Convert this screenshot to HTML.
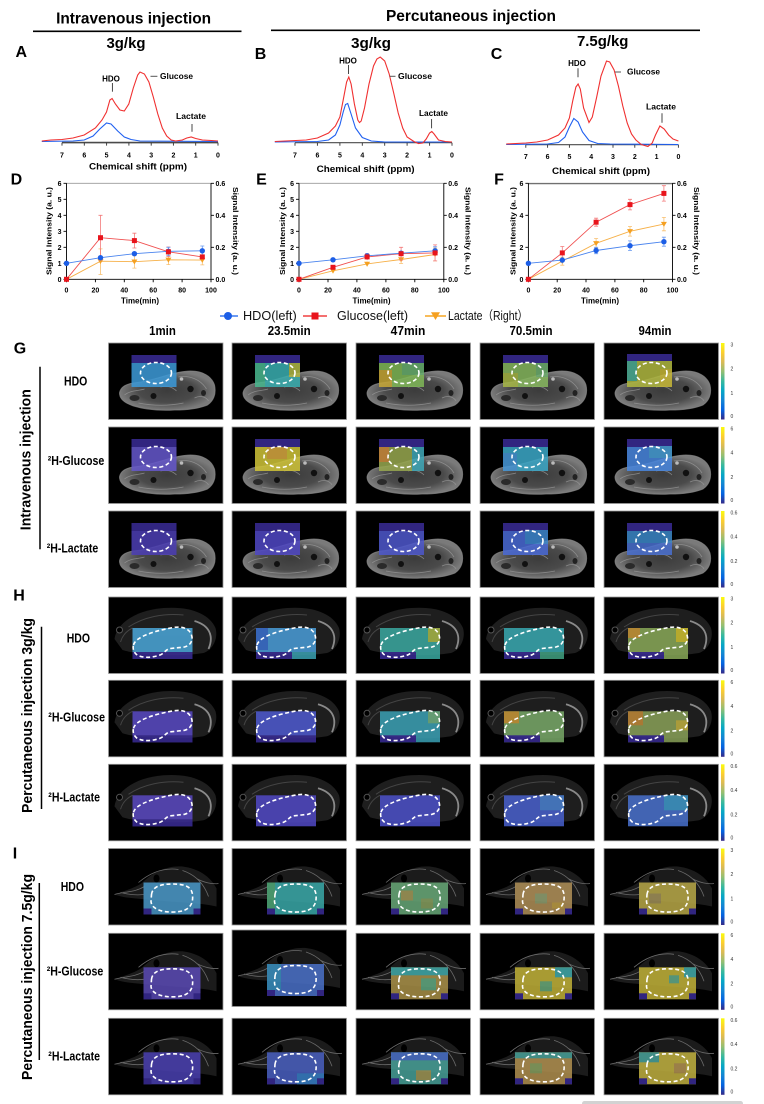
<!DOCTYPE html>
<html><head><meta charset="utf-8"><style>
html,body{margin:0;padding:0;background:#fff;}
svg{display:block;}
.b{font-family:"Liberation Sans",Arial,sans-serif;font-weight:bold;fill:#000;}
.r{font-family:"Liberation Sans","Noto Sans CJK SC",sans-serif;fill:#111;}
.t{fill:#000;stroke:#9a9a9a;stroke-width:.8;}
.o{opacity:.86;}
.cb{font-family:"Liberation Sans",Arial,sans-serif;font-size:5px;fill:#333;}
.ax{stroke:#000;stroke-width:.9;fill:none;}
</style></head><body>
<svg width="764" height="1104" viewBox="0 0 764 1104" xmlns="http://www.w3.org/2000/svg">
<defs>
<radialGradient id="rg" cx="0.5" cy="0.5" r="0.5"><stop offset="0" stop-color="#3c3c3c"/><stop offset="0.6" stop-color="#4a4a4a"/><stop offset="1" stop-color="#7a7a7a"/></radialGradient>
<linearGradient id="par" x1="0" y1="1" x2="0" y2="0">
<stop offset="0" stop-color="#352a87"/><stop offset="0.125" stop-color="#0363e1"/><stop offset="0.25" stop-color="#1485d4"/><stop offset="0.375" stop-color="#06a7c6"/><stop offset="0.5" stop-color="#38b99e"/><stop offset="0.625" stop-color="#92bf73"/><stop offset="0.75" stop-color="#d9ba56"/><stop offset="0.875" stop-color="#fcce2e"/><stop offset="1" stop-color="#f9fb0e"/>
</linearGradient>
<g id="bG">
<path d="M11,50 C12,44 18,41 25,40 C36,39 46,36 56,33 C66,30 74,28 82,28 C94,28 103,33 106,42 C108,51 105,58 99,62 C89,66 78,67 66,67 C50,68 35,66 25,63 C16,60 11,56 11,50 Z" fill="url(#rg)" stroke="#8a8a8a" stroke-width="1" stroke-opacity=".7"/>
<path d="M16,52 C22,47 30,48 36,46 M70,34 C80,32 92,36 98,46 M86,55 C92,52 98,54 100,58 M30,60 C45,63 60,63 75,60 M52,44 C58,42 64,44 68,48" stroke="#9a9a9a" stroke-width=".8" stroke-opacity=".75" fill="none"/>
<circle cx="45" cy="53" r="3" fill="#111"/>
<circle cx="82" cy="46" r="3.2" fill="#111"/>
<ellipse cx="95" cy="50" rx="2.5" ry="3" fill="#222"/>
<circle cx="73" cy="36" r="1.8" fill="#bbb"/>
<ellipse cx="26" cy="55" rx="5" ry="3" fill="#2a2a2a"/>
</g>
<g id="bH">
<path d="M6,42 C8,26 28,13 55,11 C82,9 101,17 107,31 C110,42 104,53 95,56 C70,60 30,58 14,53 Z" fill="#1e1e1e"/>
<path d="M86,24 C100,28 106,38 100,52" stroke="#8a8a8a" stroke-width="1.8" fill="none"/>
<path d="M20,30 C35,20 55,16 75,18 M12,45 C14,38 18,34 24,31" stroke="#444" stroke-width="1" fill="none"/>
<circle cx="11" cy="33" r="3" fill="#000" stroke="#555" stroke-width="1"/>
</g>
<g id="bI">
<path d="M6,46 C16,42 26,40 34,34 C44,24 58,17 74,18 C90,20 102,28 108,40 L108,58 C90,54 70,54 50,52 C30,50 16,50 6,46 Z" fill="#1b1b1b"/>
<path d="M6,46 C16,43 26,44 36,38 M30,34 C42,24 56,19 70,21 M74,22 C86,26 95,34 100,48 M88,30 C95,34 104,36 110,35 M12,44 C20,46 28,47 35,46" stroke="#6a6a6a" stroke-width=".8" fill="none"/>
<ellipse cx="48" cy="30" rx="3" ry="4" fill="#000"/>
</g>
<ellipse id="dG" cx="47.5" cy="30" rx="15.5" ry="10.5" fill="none" stroke="#fff" stroke-width="1.6" stroke-dasharray="4 2.6"/>
<path id="dH" d="M25,48 C27,40 45,34 65,30.5 C75,29 82,32 83.5,40 C84,46 80,49 76,50 L62,51.5 C57,52 56,57 50,58.5 C42,61 33,61 28,57.5 C25,55 24,51 25,48 Z" fill="none" stroke="#fff" stroke-width="1.6" stroke-dasharray="4 2.6"/>
<path id="dI" d="M43,46 C44,38 52,35.5 64,35.5 C76,35.5 83,38 84,46 C85,56 81,63 66,63.5 C52,64 43,60 42.5,53 Z" fill="none" stroke="#fff" stroke-width="1.6" stroke-dasharray="4 2.6"/>
<rect id="tile" class="t" width="114.5" height="76.5"/>
<rect id="topG" x="23" y="12" width="45" height="8" fill="#3a2c95"/>
<rect id="stH" x="24" y="55" width="36" height="7" fill="#3a2c95"/>
<g id="cnI"><rect x="35" y="60" width="8" height="6" fill="#3a2c95"/><rect x="85" y="60" width="7" height="6" fill="#3a2c95"/></g>
</defs>

<!-- ===== Titles ===== -->
<text class="b" x="133.6" y="19" font-size="16" text-anchor="middle" dominant-baseline="central" textLength="155" lengthAdjust="spacingAndGlyphs">Intravenous injection</text>
<line x1="33" y1="31.3" x2="241.5" y2="31.3" stroke="#000" stroke-width="1.6"/>
<text class="b" x="471" y="16.7" font-size="16" text-anchor="middle" dominant-baseline="central" textLength="170" lengthAdjust="spacingAndGlyphs">Percutaneous injection</text>
<line x1="271" y1="30.3" x2="700" y2="30.3" stroke="#000" stroke-width="1.6"/>
<text class="b" x="126" y="43.3" font-size="15" text-anchor="middle" dominant-baseline="central" textLength="39" lengthAdjust="spacingAndGlyphs">3g/kg</text>
<text class="b" x="371" y="43.3" font-size="15" text-anchor="middle" dominant-baseline="central" textLength="40" lengthAdjust="spacingAndGlyphs">3g/kg</text>
<text class="b" x="602.7" y="41.3" font-size="15" text-anchor="middle" dominant-baseline="central" textLength="51.5" lengthAdjust="spacingAndGlyphs">7.5g/kg</text>
<text class="b" x="21.3" y="52.7" font-size="16" text-anchor="middle" dominant-baseline="central">A</text>
<text class="b" x="260.5" y="54.3" font-size="16" text-anchor="middle" dominant-baseline="central">B</text>
<text class="b" x="496.5" y="54.3" font-size="16" text-anchor="middle" dominant-baseline="central">C</text>

<!-- ===== Spectrum A ===== -->
<g>
<line x1="62" y1="142.6" x2="218" y2="142.6" stroke="#4a4a4a" stroke-width="1.6"/>
<path d="M62,142.6v3M84.3,142.6v3M106.6,142.6v3M128.9,142.6v3M151.2,142.6v3M173.4,142.6v3M195.7,142.6v3M218,142.6v3" stroke="#333" stroke-width=".9"/>
<polyline fill="none" stroke="#2060f0" stroke-width="1.1" points="41.8,141.5 73,141 84.2,140 93.1,136 99.8,129 106.5,123 111,124 117.7,131 124.3,137 131,139.5 140,141 218,141.5"/>
<polyline fill="none" stroke="#f03030" stroke-width="1.1" points="41.8,141 50.8,140 61.9,139.5 73,138 84.2,135 95.4,128 102,120 106.5,112 109.9,100 112.1,98.5 115.4,104 119.9,110 124.3,111 128.8,104 133.3,88 137.7,75 140,72 144.4,74 148.9,82 153.3,97 157.8,114 162.3,128 166.7,136 171.2,140 175.6,141 182.3,140 186.8,138 191.2,137 195.7,138.5 202.4,140 211.3,140.5 218,141"/>
<g class="b" font-size="7" text-anchor="middle">
<text x="62" y="157.5">7</text><text x="84.3" y="157.5">6</text><text x="106.6" y="157.5">5</text><text x="128.9" y="157.5">4</text><text x="151.2" y="157.5">3</text><text x="173.4" y="157.5">2</text><text x="195.7" y="157.5">1</text><text x="218" y="157.5">0</text>
</g>
<text class="b" x="138" y="166.7" font-size="9" text-anchor="middle" dominant-baseline="central" textLength="98" lengthAdjust="spacingAndGlyphs">Chemical shift (ppm)</text>
<text class="b" x="111" y="79" font-size="8" text-anchor="middle" dominant-baseline="central">HDO</text>
<line x1="112.4" y1="83" x2="112.4" y2="91.7" stroke="#333" stroke-width=".9"/>
<line x1="150.5" y1="76.3" x2="157.4" y2="76.3" stroke="#555" stroke-width="1"/>
<text class="b" x="160" y="76.3" font-size="8" dominant-baseline="central" textLength="33" lengthAdjust="spacingAndGlyphs">Glucose</text>
<text class="b" x="191" y="116.7" font-size="8" text-anchor="middle" dominant-baseline="central" textLength="30" lengthAdjust="spacingAndGlyphs">Lactate</text>
<line x1="192" y1="124" x2="192" y2="131.7" stroke="#333" stroke-width=".9"/>
</g>

<!-- ===== Spectrum B ===== -->
<g>
<line x1="295" y1="142.7" x2="452" y2="142.7" stroke="#4a4a4a" stroke-width="1.2"/>
<path d="M295,142.7v3M317.4,142.7v3M339.9,142.7v3M362.3,142.7v3M384.7,142.7v3M407.1,142.7v3M429.6,142.7v3M452,142.7v3" stroke="#333" stroke-width=".9"/>
<polyline fill="none" stroke="#2060f0" stroke-width="1.1" points="274.8,142 317.4,141.5 328.6,140 335.4,135 339.9,125 343.2,112 345.5,104.5 347.7,103.5 351.1,114 355.5,128 362.3,137.5 371.3,141 384.7,142 452,142"/>
<polyline fill="none" stroke="#f03030" stroke-width="1.1" points="274.8,141.5 306.2,140 317.4,138 328.6,133 335.4,126 339.9,117 343.2,100 346.6,82 348.8,77 351.1,84 354.4,104 357.8,120 359.5,122.5 361.2,121 364.5,108 369,84 373.5,66 376.9,59 380.2,57 384.7,61 389.2,74 393.7,93 398.2,113 402.7,128 407.1,137 413.9,141.5 418.4,143.5 422.8,143 426.2,139 429.6,133 431.8,131.5 434.1,134 438.5,140 445.3,141.5 452,142"/>
<g class="b" font-size="7" text-anchor="middle">
<text x="295" y="157.5">7</text><text x="317.4" y="157.5">6</text><text x="339.9" y="157.5">5</text><text x="362.3" y="157.5">4</text><text x="384.7" y="157.5">3</text><text x="407.1" y="157.5">2</text><text x="429.6" y="157.5">1</text><text x="452" y="157.5">0</text>
</g>
<text class="b" x="365.6" y="169" font-size="9" text-anchor="middle" dominant-baseline="central" textLength="98" lengthAdjust="spacingAndGlyphs">Chemical shift (ppm)</text>
<text class="b" x="348" y="61" font-size="8" text-anchor="middle" dominant-baseline="central">HDO</text>
<line x1="348.5" y1="65" x2="348.5" y2="74" stroke="#333" stroke-width=".9"/>
<line x1="389.5" y1="76.3" x2="395.5" y2="76.3" stroke="#555" stroke-width="1"/>
<text class="b" x="398" y="76.3" font-size="8" dominant-baseline="central" textLength="34" lengthAdjust="spacingAndGlyphs">Glucose</text>
<text class="b" x="433.5" y="113.7" font-size="8" text-anchor="middle" dominant-baseline="central" textLength="29" lengthAdjust="spacingAndGlyphs">Lactate</text>
<line x1="431.6" y1="119" x2="431.6" y2="128.3" stroke="#333" stroke-width=".9"/>
</g>

<!-- ===== Spectrum C ===== -->
<g>
<line x1="525.8" y1="144.7" x2="678.4" y2="144.7" stroke="#4a4a4a" stroke-width="1.2"/>
<path d="M525.8,144.7v3M547.6,144.7v3M569.4,144.7v3M591.2,144.7v3M613,144.7v3M634.8,144.7v3M656.6,144.7v3M678.4,144.7v3" stroke="#333" stroke-width=".9"/>
<polyline fill="none" stroke="#2060f0" stroke-width="1.1" points="506.2,144.5 547.6,144 558.5,142.5 565,137 569.4,127 573.8,118.5 578.1,122 582.5,132 589,140.5 597.7,143.5 610,144 678.4,144.5"/>
<polyline fill="none" stroke="#f03030" stroke-width="1.1" points="506.2,144 525.8,143 536.7,142 547.6,140 558.5,135 565,128 569.4,118 572.7,101 575.9,87 578.1,84 580.3,89 583.6,108 589,122.5 592.3,117 596.7,97 601,76 606.5,61 609.7,62 614.1,70 618.4,86 622.8,106 627.2,123 631.5,134 635.9,140 641.3,144.5 647.9,146.5 652.2,143 655.5,135 659.9,126 664.2,129 668.6,135 673,139 678.4,141"/>
<g class="b" font-size="7" text-anchor="middle">
<text x="525.8" y="159.2">7</text><text x="547.6" y="159.2">6</text><text x="569.4" y="159.2">5</text><text x="591.2" y="159.2">4</text><text x="613" y="159.2">3</text><text x="634.8" y="159.2">2</text><text x="656.6" y="159.2">1</text><text x="678.4" y="159.2">0</text>
</g>
<text class="b" x="601" y="171" font-size="9" text-anchor="middle" dominant-baseline="central" textLength="98" lengthAdjust="spacingAndGlyphs">Chemical shift (ppm)</text>
<text class="b" x="577" y="63.7" font-size="8" text-anchor="middle" dominant-baseline="central">HDO</text>
<line x1="578" y1="68.3" x2="578" y2="77.3" stroke="#333" stroke-width=".9"/>
<line x1="615" y1="72" x2="621" y2="72" stroke="#555" stroke-width="1"/>
<text class="b" x="627" y="72" font-size="8" dominant-baseline="central" textLength="33" lengthAdjust="spacingAndGlyphs">Glucose</text>
<text class="b" x="661" y="107" font-size="8" text-anchor="middle" dominant-baseline="central" textLength="30" lengthAdjust="spacingAndGlyphs">Lactate</text>
<line x1="662" y1="113.3" x2="662" y2="122.7" stroke="#333" stroke-width=".9"/>
</g>

<!-- ===== Panel letters D E F ===== -->
<text class="b" x="16.4" y="180" font-size="16" text-anchor="middle" dominant-baseline="central">D</text>
<text class="b" x="261.5" y="180" font-size="16" text-anchor="middle" dominant-baseline="central">E</text>
<text class="b" x="499" y="180" font-size="16" text-anchor="middle" dominant-baseline="central">F</text>

<!-- ===== Graph D ===== -->
<g>
<line x1="66.5" y1="183.3" x2="211" y2="183.3" stroke="#9a9a9a" stroke-width=".8"/>
<path class="ax" d="M66.5,183.3V279.3H211V183.3"/>
<path class="ax" d="M63.5,279.3h3M63.5,263.3h3M63.5,247.3h3M63.5,231.3h3M63.5,215.3h3M63.5,199.3h3M63.5,183.3h3M211,279.3h3M211,247.3h3M211,215.3h3M211,183.3h3M66.5,279.3v3M95.4,279.3v3M124.3,279.3v3M153.2,279.3v3M182.1,279.3v3M211,279.3v3"/>
<g class="b" font-size="7" text-anchor="end">
<text x="61.5" y="281.8">0</text><text x="61.5" y="265.8">1</text><text x="61.5" y="249.8">2</text><text x="61.5" y="233.8">3</text><text x="61.5" y="217.8">4</text><text x="61.5" y="201.8">5</text><text x="61.5" y="185.8">6</text>
</g>
<g class="b" font-size="7">
<text x="215.5" y="281.8">0.0</text><text x="215.5" y="249.8">0.2</text><text x="215.5" y="217.8">0.4</text><text x="215.5" y="185.8">0.6</text>
</g>
<g class="b" font-size="7" text-anchor="middle">
<text x="66.5" y="292.5">0</text><text x="95.4" y="292.5">20</text><text x="124.3" y="292.5">40</text><text x="153.2" y="292.5">60</text><text x="182.1" y="292.5">80</text><text x="211" y="292.5">100</text>
</g>
<text class="b" x="140" y="301" font-size="8" text-anchor="middle" dominant-baseline="central" textLength="38" lengthAdjust="spacingAndGlyphs">Time(min)</text>
<text class="b" transform="translate(48.9,231) rotate(-90)" font-size="7.5" text-anchor="middle" dominant-baseline="central" textLength="88" lengthAdjust="spacingAndGlyphs">Signal Intensity (a. u.)</text>
<text class="b" transform="translate(235.6,231) rotate(90)" font-size="7.5" text-anchor="middle" dominant-baseline="central" textLength="88" lengthAdjust="spacingAndGlyphs">Signal Intensity (a. u.)</text>
<path d="M100.5,248.9V274.5M98.5,248.9h4M98.5,274.5h4M134.4,255.3V268.1M132.4,255.3h4M132.4,268.1h4M168.4,255V264.6M166.4,255h4M166.4,264.6h4M202.3,255.3V264.9M200.3,255.3h4M200.3,264.9h4" stroke="#f8c070" stroke-width=".8" fill="none"/>
<polyline points="66.5,279.3 100.5,261.2 134.4,261.7 168.4,259.8 202.3,260.1" fill="none" stroke="#f6b048" stroke-width=".9"/>
<g fill="#f5a020"><path d="M97.5,259h6l-3,5z"/><path d="M131.4,259.5h6l-3,5z"/><path d="M165.4,257.6h6l-3,5z"/><path d="M199.3,257.9h6l-3,5z"/></g>
<path d="M100.5,215.3V260M98.5,215.3h4M98.5,260h4M134.4,233.2V248M132.4,233.2h4M132.4,248h4M168.4,247V256.6M166.4,247h4M166.4,256.6h4M202.3,255V258.8M200.3,255h4" stroke="#f37a7a" stroke-width=".8" fill="none"/>
<polyline points="66.5,279.3 100.5,237.7 134.4,240.6 168.4,251.8 202.3,256.9" fill="none" stroke="#f05050" stroke-width=".9"/>
<path d="M134.4,252.1V255.3M168.4,247.3V255.3M166.4,247.3h4M166.4,255.3h4M202.3,246V255.6M200.3,246h4M200.3,255.6h4" stroke="#6a9af0" stroke-width=".8" fill="none"/>
<polyline points="66.5,263.3 100.5,257.7 134.4,253.7 168.4,251.3 202.3,250.8" fill="none" stroke="#4a84ee" stroke-width=".9"/>
<g fill="#1c5ee6"><circle cx="66.5" cy="263.3" r="2.7"/><circle cx="100.5" cy="257.7" r="2.7"/><circle cx="134.4" cy="253.7" r="2.7"/><circle cx="168.4" cy="251.3" r="2.7"/><circle cx="202.3" cy="250.8" r="2.7"/></g>
<g fill="#e8141c"><rect x="64" y="276.8" width="5" height="5"/><rect x="98" y="235.2" width="5" height="5"/><rect x="131.9" y="238.1" width="5" height="5"/><rect x="165.9" y="249.3" width="5" height="5"/><rect x="199.8" y="254.4" width="5" height="5"/></g>
</g>

<!-- ===== Graph E ===== -->
<g>
<line x1="299" y1="183.3" x2="443.8" y2="183.3" stroke="#9a9a9a" stroke-width=".8"/>
<path class="ax" d="M299,183.3V279.3H443.8V183.3"/>
<path class="ax" d="M296,279.3h3M296,263.3h3M296,247.3h3M296,231.3h3M296,215.3h3M296,199.3h3M296,183.3h3M443.8,279.3h3M443.8,247.3h3M443.8,215.3h3M443.8,183.3h3M299,279.3v3M328,279.3v3M356.9,279.3v3M385.9,279.3v3M414.8,279.3v3M443.8,279.3v3"/>
<g class="b" font-size="7" text-anchor="end">
<text x="294" y="281.8">0</text><text x="294" y="265.8">1</text><text x="294" y="249.8">2</text><text x="294" y="233.8">3</text><text x="294" y="217.8">4</text><text x="294" y="201.8">5</text><text x="294" y="185.8">6</text>
</g>
<g class="b" font-size="7">
<text x="448.3" y="281.8">0.0</text><text x="448.3" y="249.8">0.2</text><text x="448.3" y="217.8">0.4</text><text x="448.3" y="185.8">0.6</text>
</g>
<g class="b" font-size="7" text-anchor="middle">
<text x="299" y="292.5">0</text><text x="328" y="292.5">20</text><text x="356.9" y="292.5">40</text><text x="385.9" y="292.5">60</text><text x="414.8" y="292.5">80</text><text x="443.8" y="292.5">100</text>
</g>
<text class="b" x="371.5" y="301" font-size="8" text-anchor="middle" dominant-baseline="central" textLength="38" lengthAdjust="spacingAndGlyphs">Time(min)</text>
<text class="b" transform="translate(282.5,231) rotate(-90)" font-size="7.5" text-anchor="middle" dominant-baseline="central" textLength="88" lengthAdjust="spacingAndGlyphs">Signal Intensity (a. u.)</text>
<text class="b" transform="translate(468,231) rotate(90)" font-size="7.5" text-anchor="middle" dominant-baseline="central" textLength="88" lengthAdjust="spacingAndGlyphs">Signal Intensity (a. u.)</text>
<path d="M367.1,261.5V266.3M401.1,255.5V263.5M399.1,255.5h4M399.1,263.5h4M435.1,248.1V260.9M433.1,248.1h4M433.1,260.9h4" stroke="#f8c070" stroke-width=".8" fill="none"/>
<polyline points="299,279.3 333,270.8 367.1,263.9 401.1,259.5 435.1,254.5" fill="none" stroke="#f6b048" stroke-width=".9"/>
<g fill="#f5a020"><path d="M330,268.6h6l-3,5z"/><path d="M364.1,261.7h6l-3,5z"/><path d="M398.1,257.3h6l-3,5z"/><path d="M432.1,252.3h6l-3,5z"/></g>
<path d="M333,265.7V268.9M367.1,253.7V260.1M365.1,253.7h4M401.1,247.3V260.1M399.1,247.3h4M399.1,260.1h4M435.1,244.9V260.9M433.1,244.9h4M433.1,260.9h4" stroke="#f37a7a" stroke-width=".8" fill="none"/>
<polyline points="299,279.3 333,267.3 367.1,256.9 401.1,253.7 435.1,252.9" fill="none" stroke="#f05050" stroke-width=".9"/>
<path d="M401.1,251V255.4M435.1,246.8V254.8M433.1,246.8h4" stroke="#6a9af0" stroke-width=".8" fill="none"/>
<polyline points="299,263.3 333,259.8 367.1,255.8 401.1,253.2 435.1,250.8" fill="none" stroke="#4a84ee" stroke-width=".9"/>
<g fill="#1c5ee6"><circle cx="299" cy="263.3" r="2.7"/><circle cx="333" cy="259.8" r="2.7"/><circle cx="367.1" cy="255.8" r="2.7"/><circle cx="401.1" cy="253.2" r="2.7"/><circle cx="435.1" cy="250.8" r="2.7"/></g>
<g fill="#e8141c"><rect x="296.5" y="276.8" width="5" height="5"/><rect x="330.5" y="264.8" width="5" height="5"/><rect x="364.6" y="254.4" width="5" height="5"/><rect x="398.6" y="251.2" width="5" height="5"/><rect x="432.6" y="250.4" width="5" height="5"/></g>
</g>

<!-- ===== Graph F ===== -->
<g>
<line x1="528.4" y1="183.6" x2="672.5" y2="183.6" stroke="#707070" stroke-width="1.4"/>
<path class="ax" d="M528.4,183.3V279.3H672.5V183.3"/>
<path class="ax" d="M525.4,279.3h3M525.4,247.3h3M525.4,215.3h3M525.4,183.3h3M672.5,279.3h3M672.5,247.3h3M672.5,215.3h3M672.5,183.3h3M528.4,279.3v3M557.2,279.3v3M586,279.3v3M614.9,279.3v3M643.7,279.3v3M672.5,279.3v3"/>
<g class="b" font-size="7" text-anchor="end">
<text x="523.4" y="281.8">0</text><text x="523.4" y="249.8">2</text><text x="523.4" y="217.8">4</text><text x="523.4" y="185.8">6</text>
</g>
<g class="b" font-size="7">
<text x="677" y="281.8">0.0</text><text x="677" y="249.8">0.2</text><text x="677" y="217.8">0.4</text><text x="677" y="185.8">0.6</text>
</g>
<g class="b" font-size="7" text-anchor="middle">
<text x="528.4" y="292.5">0</text><text x="557.2" y="292.5">20</text><text x="586" y="292.5">40</text><text x="614.9" y="292.5">60</text><text x="643.7" y="292.5">80</text><text x="672.5" y="292.5">100</text>
</g>
<text class="b" x="600" y="301" font-size="8" text-anchor="middle" dominant-baseline="central" textLength="38" lengthAdjust="spacingAndGlyphs">Time(min)</text>
<text class="b" transform="translate(513,231) rotate(-90)" font-size="7.5" text-anchor="middle" dominant-baseline="central" textLength="88" lengthAdjust="spacingAndGlyphs">Signal Intensity (a. u.)</text>
<text class="b" transform="translate(696.5,231) rotate(90)" font-size="7.5" text-anchor="middle" dominant-baseline="central" textLength="88" lengthAdjust="spacingAndGlyphs">Signal Intensity (a. u.)</text>
<path d="M562.3,257.2V265.2M560.3,257.2h4M560.3,265.2h4M596.1,238.5V248.1M594.1,238.5h4M594.1,248.1h4M630,226.5V236.1M628,226.5h4M628,236.1h4M663.9,217.4V230.8M661.9,217.4h4M661.9,230.8h4" stroke="#f8c070" stroke-width=".8" fill="none"/>
<polyline points="528.4,279.3 562.3,261.2 596.1,243.3 630,231.3 663.9,224.1" fill="none" stroke="#f6b048" stroke-width=".9"/>
<g fill="#f5a020"><path d="M559.3,259h6l-3,5z"/><path d="M593.1,241.1h6l-3,5z"/><path d="M627,229.1h6l-3,5z"/><path d="M660.9,221.9h6l-3,5z"/></g>
<path d="M562.3,246.5V259.3M560.3,246.5h4M560.3,259.3h4M596.1,218.2V226.2M594.1,218.2h4M594.1,226.2h4M630,199.3V209.9M628,199.3h4M628,209.9h4M663.9,185.7V201.1M661.9,185.7h4M661.9,201.1h4" stroke="#f37a7a" stroke-width=".8" fill="none"/>
<polyline points="528.4,279.3 562.3,252.9 596.1,222.2 630,204.6 663.9,193.4" fill="none" stroke="#f05050" stroke-width=".9"/>
<path d="M562.3,256.9V263.3M596.1,247.3V253.7M594.1,247.3h4M594.1,253.7h4M630,240.9V250.5M628,240.9h4M628,250.5h4M663.9,237.2V246.2M661.9,237.2h4M661.9,246.2h4" stroke="#6a9af0" stroke-width=".8" fill="none"/>
<polyline points="528.4,263.3 562.3,260.1 596.1,250.5 630,245.7 663.9,241.7" fill="none" stroke="#4a84ee" stroke-width=".9"/>
<g fill="#1c5ee6"><circle cx="528.4" cy="263.3" r="2.7"/><circle cx="562.3" cy="260.1" r="2.7"/><circle cx="596.1" cy="250.5" r="2.7"/><circle cx="630" cy="245.7" r="2.7"/><circle cx="663.9" cy="241.7" r="2.7"/></g>
<g fill="#e8141c"><rect x="525.9" y="276.8" width="5" height="5"/><rect x="559.8" y="250.4" width="5" height="5"/><rect x="593.6" y="219.7" width="5" height="5"/><rect x="627.5" y="202.1" width="5" height="5"/><rect x="661.4" y="190.9" width="5" height="5"/></g>
</g>

<!-- ===== Legend ===== -->
<line x1="220" y1="316" x2="238" y2="316" stroke="#3a78ee" stroke-width="1.5"/>
<circle cx="228" cy="316" r="4" fill="#1c5ee6"/>
<text class="r" x="243" y="316" font-size="12.5" dominant-baseline="central" textLength="53.7" lengthAdjust="spacingAndGlyphs">HDO(left)</text>
<line x1="303" y1="316" x2="327" y2="316" stroke="#f04040" stroke-width="1.5"/>
<rect x="311.5" y="312.5" width="7" height="7" fill="#e8141c"/>
<text class="r" x="337" y="316" font-size="12.5" dominant-baseline="central" textLength="71" lengthAdjust="spacingAndGlyphs">Glucose(left)</text>
<line x1="425" y1="316" x2="446" y2="316" stroke="#f5a623" stroke-width="1.5"/>
<path d="M431,312.3h9l-4.5,7.7z" fill="#f5a020"/>
<text class="r" x="448" y="316" font-size="12.5" dominant-baseline="central" textLength="80" lengthAdjust="spacingAndGlyphs">Lactate（Right）</text>

<!-- ===== Column headers ===== -->
<g class="b" font-size="12.5" text-anchor="middle">
<text x="162.5" y="331" dominant-baseline="central" textLength="26.7" lengthAdjust="spacingAndGlyphs">1min</text>
<text x="289.2" y="331" dominant-baseline="central" textLength="43" lengthAdjust="spacingAndGlyphs">23.5min</text>
<text x="408" y="331" dominant-baseline="central" textLength="34.7" lengthAdjust="spacingAndGlyphs">47min</text>
<text x="531" y="331" dominant-baseline="central" textLength="43" lengthAdjust="spacingAndGlyphs">70.5min</text>
<text x="655" y="331" dominant-baseline="central" textLength="33" lengthAdjust="spacingAndGlyphs">94min</text>
</g>

<!-- ===== Section labels ===== -->
<text class="b" x="20" y="349" font-size="16" text-anchor="middle" dominant-baseline="central">G</text>
<text class="b" x="19" y="596" font-size="16" text-anchor="middle" dominant-baseline="central">H</text>
<text class="b" x="15" y="854" font-size="16" text-anchor="middle" dominant-baseline="central">I</text>
<text class="b" transform="translate(26.7,459.7) rotate(-90)" font-size="14.5" text-anchor="middle" dominant-baseline="central" textLength="141" lengthAdjust="spacingAndGlyphs">Intravenous injection</text>
<line x1="40" y1="366.7" x2="40" y2="549.3" stroke="#000" stroke-width="1.5"/>
<text class="b" transform="translate(28,715.5) rotate(-90)" font-size="14.5" text-anchor="middle" dominant-baseline="central" textLength="195" lengthAdjust="spacingAndGlyphs">Percutaneous injection 3g/kg</text>
<line x1="41.5" y1="626.7" x2="41.5" y2="809" stroke="#000" stroke-width="1.5"/>
<text class="b" transform="translate(28,977) rotate(-90)" font-size="14.5" text-anchor="middle" dominant-baseline="central" textLength="206" lengthAdjust="spacingAndGlyphs">Percutaneous injection 7.5g/kg</text>
<line x1="39.3" y1="883" x2="39.3" y2="1060" stroke="#000" stroke-width="1.5"/>

<!-- Row labels -->
<g class="b" font-size="12.5">
<text x="64" y="381.7" dominant-baseline="central" textLength="23.3" lengthAdjust="spacingAndGlyphs">HDO</text>
<text x="47.7" y="461" dominant-baseline="central" textLength="56.6" lengthAdjust="spacingAndGlyphs">²H-Glucose</text>
<text x="46.7" y="548.7" dominant-baseline="central" textLength="51.6" lengthAdjust="spacingAndGlyphs">²H-Lactate</text>
<text x="66.7" y="638.3" dominant-baseline="central" textLength="23.3" lengthAdjust="spacingAndGlyphs">HDO</text>
<text x="48.3" y="717.3" dominant-baseline="central" textLength="56.7" lengthAdjust="spacingAndGlyphs">²H-Glucose</text>
<text x="48.3" y="797.7" dominant-baseline="central" textLength="51.7" lengthAdjust="spacingAndGlyphs">²H-Lactate</text>
<text x="60.7" y="887" dominant-baseline="central" textLength="23.3" lengthAdjust="spacingAndGlyphs">HDO</text>
<text x="46.7" y="971.7" dominant-baseline="central" textLength="56.6" lengthAdjust="spacingAndGlyphs">²H-Glucose</text>
<text x="48.3" y="1056.7" dominant-baseline="central" textLength="51.7" lengthAdjust="spacingAndGlyphs">²H-Lactate</text>
</g>

<!-- ===== G tiles ===== -->
<g transform="translate(108.5,343)"><use href="#tile"/><use href="#bG"/><g class="o"><rect x="23" y="12" width="45" height="32" fill="#3d9ad8"/><use href="#topG"/></g><use href="#dG"/></g>
<g transform="translate(232,343)"><use href="#tile"/><use href="#bG"/><g class="o"><rect x="23" y="12" width="45" height="32" fill="#3aaeb0"/><use href="#topG"/><rect x="23" y="20" width="10" height="24" fill="#4ab890"/><rect x="57" y="20" width="11" height="14" fill="#b0b848"/></g><use href="#dG"/></g>
<g transform="translate(356,343)"><use href="#tile"/><use href="#bG"/><g class="o"><rect x="23" y="12" width="45" height="32" fill="#80b858"/><use href="#topG"/><rect x="23" y="27" width="13" height="17" fill="#c8a838"/><rect x="46" y="20" width="22" height="12" fill="#6ab070"/></g><use href="#dG"/></g>
<g transform="translate(480,343)"><use href="#tile"/><use href="#bG"/><g class="o"><rect x="23" y="12" width="45" height="32" fill="#88b860"/><use href="#topG"/><rect x="23" y="30" width="15" height="14" fill="#a8b848"/><rect x="56" y="20" width="12" height="14" fill="#70b070"/></g><use href="#dG"/></g>
<g transform="translate(604,343)"><use href="#tile"/><use href="#bG"/><g class="o"><rect x="23" y="11" width="45" height="33" fill="#b0b840"/><rect x="23" y="11" width="45" height="7" fill="#3a2c95"/><rect x="23" y="18" width="10" height="20" fill="#50b098"/><rect x="56" y="26" width="12" height="18" fill="#c8b838"/></g><use href="#dG"/></g>
<g transform="translate(108.5,427)"><use href="#tile"/><use href="#bG"/><g class="o"><rect x="23" y="12" width="45" height="32" fill="#6658cc"/><use href="#topG"/></g><use href="#dG"/></g>
<g transform="translate(232,427)"><use href="#tile"/><use href="#bG"/><g class="o"><rect x="23" y="12" width="45" height="32" fill="#d0c438"/><use href="#topG"/><rect x="35" y="20" width="20" height="12" fill="#d8a840"/></g><use href="#dG"/></g>
<g transform="translate(356,427)"><use href="#tile"/><use href="#bG"/><g class="o"><rect x="23" y="12" width="45" height="32" fill="#98a850"/><use href="#topG"/><rect x="23" y="20" width="10" height="15" fill="#d09040"/><rect x="56" y="20" width="12" height="24" fill="#40a8b8"/></g><use href="#dG"/></g>
<g transform="translate(480,427)"><use href="#tile"/><use href="#bG"/><g class="o"><rect x="23" y="12" width="45" height="32" fill="#3ca8c8"/><use href="#topG"/><rect x="23" y="26" width="14" height="18" fill="#4898d8"/></g><use href="#dG"/></g>
<g transform="translate(604,427)"><use href="#tile"/><use href="#bG"/><g class="o"><rect x="23" y="12" width="45" height="32" fill="#4a88e0"/><use href="#topG"/><rect x="45" y="19" width="23" height="12" fill="#4aa0d8"/></g><use href="#dG"/></g>
<g transform="translate(108.5,511)"><use href="#tile"/><use href="#bG"/><g class="o"><rect x="23" y="12" width="45" height="32" fill="#4c3eb4"/><use href="#topG"/></g><use href="#dG"/></g>
<g transform="translate(232,511)"><use href="#tile"/><use href="#bG"/><g class="o"><rect x="23" y="12" width="45" height="32" fill="#5048c4"/><use href="#topG"/></g><use href="#dG"/></g>
<g transform="translate(356,511)"><use href="#tile"/><use href="#bG"/><g class="o"><rect x="23" y="12" width="45" height="32" fill="#4e58cc"/><use href="#topG"/></g><use href="#dG"/></g>
<g transform="translate(480,511)"><use href="#tile"/><use href="#bG"/><g class="o"><rect x="23" y="12" width="45" height="32" fill="#4a6ad6"/><use href="#topG"/><rect x="45" y="19" width="23" height="14" fill="#3e88d0"/></g><use href="#dG"/></g>
<g transform="translate(604,511)"><use href="#tile"/><use href="#bG"/><g class="o"><rect x="23" y="12" width="45" height="32" fill="#3c88c8"/><use href="#topG"/><rect x="23" y="32" width="45" height="12" fill="#4a70d0"/></g><use href="#dG"/></g>

<!-- ===== H tiles ===== -->
<g transform="translate(108.5,597)"><use href="#tile"/><use href="#bH"/><g class="o"><rect x="24" y="31" width="60" height="31" fill="#4aa6d8"/><rect x="24" y="55" width="60" height="7" fill="#3a2c95"/></g><use href="#dH"/></g>
<g transform="translate(232,597)"><use href="#tile"/><use href="#bH"/><g class="o"><rect x="24" y="31" width="60" height="31" fill="#4a9cd8"/><rect x="24" y="31" width="12" height="22" fill="#3a70d0"/><use href="#stH"/><rect x="60" y="55" width="24" height="7" fill="#3aa0b0"/></g><use href="#dH"/></g>
<g transform="translate(356,597)"><use href="#tile"/><use href="#bH"/><g class="o"><rect x="24" y="31" width="60" height="31" fill="#3aa8a0"/><rect x="72" y="31" width="12" height="14" fill="#a8b848"/><use href="#stH"/></g><use href="#dH"/></g>
<g transform="translate(480,597)"><use href="#tile"/><use href="#bH"/><g class="o"><rect x="24" y="31" width="60" height="31" fill="#38a8b0"/><use href="#stH"/><rect x="60" y="55" width="24" height="7" fill="#40a080"/></g><use href="#dH"/></g>
<g transform="translate(604,597)"><use href="#tile"/><use href="#bH"/><g class="o"><rect x="24" y="31" width="60" height="31" fill="#88a858"/><rect x="24" y="31" width="12" height="10" fill="#c89838"/><rect x="72" y="31" width="12" height="14" fill="#d0c030"/><use href="#stH"/></g><use href="#dH"/></g>
<g transform="translate(108.5,680.3)"><use href="#tile"/><use href="#bH"/><g class="o"><rect x="24" y="31" width="60" height="31" fill="#5848c2"/><rect x="24" y="55" width="60" height="7" fill="#3a2c95"/></g><use href="#dH"/></g>
<g transform="translate(232,680.3)"><use href="#tile"/><use href="#bH"/><g class="o"><rect x="24" y="31" width="60" height="31" fill="#4e5ad0"/><rect x="24" y="55" width="60" height="7" fill="#3a2c95"/></g><use href="#dH"/></g>
<g transform="translate(356,680.3)"><use href="#tile"/><use href="#bH"/><g class="o"><rect x="24" y="31" width="60" height="31" fill="#3aa0b4"/><rect x="72" y="31" width="12" height="12" fill="#70b080"/><use href="#stH"/></g><use href="#dH"/></g>
<g transform="translate(480,680.3)"><use href="#tile"/><use href="#bH"/><g class="o"><rect x="24" y="31" width="60" height="31" fill="#78a868"/><rect x="24" y="31" width="15" height="12" fill="#c89838"/><use href="#stH"/></g><use href="#dH"/></g>
<g transform="translate(604,680.3)"><use href="#tile"/><use href="#bH"/><g class="o"><rect x="24" y="31" width="60" height="31" fill="#88a058"/><rect x="24" y="31" width="15" height="14" fill="#c08838"/><rect x="72" y="40" width="12" height="10" fill="#c0b040"/><use href="#stH"/></g><use href="#dH"/></g>
<g transform="translate(108.5,764.3)"><use href="#tile"/><use href="#bH"/><g class="o"><rect x="24" y="31" width="60" height="31" fill="#5a48c0"/><rect x="24" y="55" width="60" height="7" fill="#3a2c95"/></g><use href="#dH"/></g>
<g transform="translate(232,764.3)"><use href="#tile"/><use href="#bH"/><g class="o"><rect x="24" y="31" width="60" height="31" fill="#5048c4"/></g><use href="#dH"/></g>
<g transform="translate(356,764.3)"><use href="#tile"/><use href="#bH"/><g class="o"><rect x="24" y="31" width="60" height="31" fill="#4c50c8"/></g><use href="#dH"/></g>
<g transform="translate(480,764.3)"><use href="#tile"/><use href="#bH"/><g class="o"><rect x="24" y="31" width="60" height="31" fill="#4860cc"/><rect x="60" y="31" width="24" height="15" fill="#4a80d0"/></g><use href="#dH"/></g>
<g transform="translate(604,764.3)"><use href="#tile"/><use href="#bH"/><g class="o"><rect x="24" y="31" width="60" height="31" fill="#4870cc"/><rect x="60" y="31" width="24" height="15" fill="#3e98c8"/></g><use href="#dH"/></g>

<!-- ===== I tiles ===== -->
<g transform="translate(108.5,848.5)"><use href="#tile"/><use href="#bI"/><g class="o"><rect x="35" y="34" width="57" height="32" fill="#4a98c8"/><use href="#cnI"/></g><use href="#dI"/></g>
<g transform="translate(232,848.5)"><use href="#tile"/><use href="#bI"/><g class="o"><rect x="35" y="34" width="57" height="32" fill="#3aa8a8"/><rect x="35" y="34" width="8" height="26" fill="#50a878"/><use href="#cnI"/></g><use href="#dI"/></g>
<g transform="translate(356,848.5)"><use href="#tile"/><use href="#bI"/><g class="o"><rect x="35" y="34" width="57" height="32" fill="#68a878"/><rect x="45" y="42" width="12" height="10" fill="#a09858"/><rect x="65" y="50" width="12" height="10" fill="#88a060"/><use href="#cnI"/></g><use href="#dI"/></g>
<g transform="translate(480,848.5)"><use href="#tile"/><use href="#bI"/><g class="o"><rect x="35" y="34" width="57" height="32" fill="#b09058"/><rect x="55" y="45" width="12" height="10" fill="#90a070"/><rect x="72" y="54" width="12" height="6" fill="#c0a048"/><use href="#cnI"/></g><use href="#dI"/></g>
<g transform="translate(604,848.5)"><use href="#tile"/><use href="#bI"/><g class="o"><rect x="35" y="34" width="57" height="32" fill="#b8a848"/><rect x="45" y="45" width="12" height="10" fill="#a09058"/><use href="#cnI"/></g><use href="#dI"/></g>
<g transform="translate(108.5,933.3)"><use href="#tile"/><use href="#bI"/><g class="o"><rect x="35" y="34" width="57" height="32" fill="#5a4ab4"/><use href="#cnI"/></g><use href="#dI"/></g>
<g transform="translate(232,930)"><use href="#tile"/><use href="#bI"/><g class="o"><rect x="35" y="34" width="57" height="32" fill="#4a70c8"/><rect x="35" y="34" width="14" height="26" fill="#3a90c0"/><use href="#cnI"/></g><use href="#dI"/></g>
<g transform="translate(356,933.3)"><use href="#tile"/><use href="#bI"/><g class="o"><rect x="35" y="34" width="57" height="32" fill="#a89048"/><rect x="35" y="34" width="57" height="8" fill="#40a8a8"/><rect x="65" y="45" width="15" height="12" fill="#60a880"/><use href="#cnI"/></g><use href="#dI"/></g>
<g transform="translate(480,933.3)"><use href="#tile"/><use href="#bI"/><g class="o"><rect x="35" y="34" width="57" height="32" fill="#c0b038"/><rect x="75" y="34" width="17" height="10" fill="#40a8a8"/><rect x="60" y="48" width="12" height="10" fill="#68a878"/><use href="#cnI"/></g><use href="#dI"/></g>
<g transform="translate(604,933.3)"><use href="#tile"/><use href="#bI"/><g class="o"><rect x="35" y="34" width="57" height="32" fill="#c0b038"/><rect x="80" y="34" width="12" height="10" fill="#40a8a8"/><rect x="65" y="42" width="10" height="8" fill="#60a888"/><use href="#cnI"/></g><use href="#dI"/></g>
<g transform="translate(108.5,1018.3)"><use href="#tile"/><use href="#bI"/><g class="o"><rect x="35" y="34" width="57" height="32" fill="#4a40b0"/><use href="#cnI"/></g><use href="#dI"/></g>
<g transform="translate(232,1018.3)"><use href="#tile"/><use href="#bI"/><g class="o"><rect x="35" y="34" width="57" height="32" fill="#4a60c0"/><rect x="65" y="55" width="27" height="11" fill="#3a80c8"/><use href="#cnI"/></g><use href="#dI"/></g>
<g transform="translate(356,1018.3)"><use href="#tile"/><use href="#bI"/><g class="o"><rect x="35" y="34" width="57" height="32" fill="#48a098"/><rect x="35" y="34" width="57" height="8" fill="#4a70c8"/><rect x="60" y="52" width="15" height="10" fill="#a09858"/><use href="#cnI"/></g><use href="#dI"/></g>
<g transform="translate(480,1018.3)"><use href="#tile"/><use href="#bI"/><g class="o"><rect x="35" y="34" width="57" height="32" fill="#b09050"/><rect x="35" y="34" width="57" height="6" fill="#48a098"/><rect x="50" y="45" width="12" height="10" fill="#88a060"/><use href="#cnI"/></g><use href="#dI"/></g>
<g transform="translate(604,1018.3)"><use href="#tile"/><use href="#bI"/><g class="o"><rect x="35" y="34" width="57" height="32" fill="#c0b040"/><rect x="35" y="34" width="20" height="10" fill="#48a098"/><rect x="70" y="45" width="12" height="10" fill="#b09050"/><use href="#cnI"/></g><use href="#dI"/></g>

<!-- ===== Colorbars ===== -->
<g fill="url(#par)">
<rect x="721" y="343" width="3.5" height="76.5"/><rect x="721" y="427" width="3.5" height="76.5"/><rect x="721" y="511" width="3.5" height="76.5"/>
<rect x="721" y="597" width="3.5" height="76.5"/><rect x="721" y="680.3" width="3.5" height="76.5"/><rect x="721" y="764.3" width="3.5" height="76.5"/>
<rect x="721" y="848.5" width="3.5" height="76.5"/><rect x="721" y="933.3" width="3.5" height="76.5"/><rect x="721" y="1018.3" width="3.5" height="76.5"/>
</g>
<g class="cb" dominant-baseline="central">
<text x="730.5" y="345.5">3</text><text x="730.5" y="369.5">2</text><text x="730.5" y="394">1</text><text x="730.5" y="417">0</text>
<text x="730.5" y="429.5">6</text><text x="730.5" y="453.5">4</text><text x="730.5" y="478">2</text><text x="730.5" y="501">0</text>
<text x="730.5" y="513.5">0.6</text><text x="730.5" y="537.5">0.4</text><text x="730.5" y="562">0.2</text><text x="730.5" y="585">0</text>
<text x="730.5" y="599.5">3</text><text x="730.5" y="623.5">2</text><text x="730.5" y="648">1</text><text x="730.5" y="671">0</text>
<text x="730.5" y="682.8">6</text><text x="730.5" y="706.8">4</text><text x="730.5" y="731.3">2</text><text x="730.5" y="754.3">0</text>
<text x="730.5" y="766.8">0.6</text><text x="730.5" y="790.8">0.4</text><text x="730.5" y="815.3">0.2</text><text x="730.5" y="838.3">0</text>
<text x="730.5" y="851">3</text><text x="730.5" y="875">2</text><text x="730.5" y="899.5">1</text><text x="730.5" y="922.5">0</text>
<text x="730.5" y="935.8">6</text><text x="730.5" y="959.8">4</text><text x="730.5" y="984.3">2</text><text x="730.5" y="1007.3">0</text>
<text x="730.5" y="1020.8">0.6</text><text x="730.5" y="1044.8">0.4</text><text x="730.5" y="1069.3">0.2</text><text x="730.5" y="1092.3">0</text>
</g>

<rect x="582" y="1101" width="161" height="5" rx="2.5" fill="#d2d2d2"/>
</svg>
</body></html>
